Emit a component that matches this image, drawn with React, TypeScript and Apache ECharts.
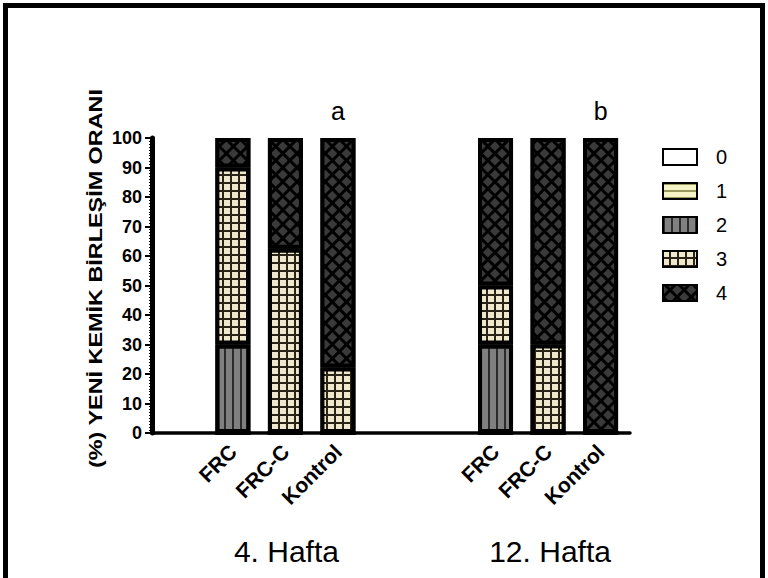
import React, { useEffect, useRef } from 'react';
import * as echarts from 'echarts';

// ---- data ----
const categories = ['FRC', 'FRC-C', 'Kontrol', 'FRC', 'FRC-C', 'Kontrol'];
const slots = [0, 1, 2, 5, 6, 7]; // category slots on the x axis (two empty slots between weeks)
const groupLabels = ['4. Hafta', '12. Hafta'];
const groupMarks = ['a', 'b'];
const legendNames = ['0', '1', '2', '3', '4'];
const score0 = [0, 0, 0, 0, 0, 0];
const score1 = [0, 0, 0, 0, 0, 0];
const score2 = [30, 0, 0, 30, 0, 0];
const score3 = [60, 62.5, 22.2, 20, 30, 0];
const score4 = [10, 37.5, 77.8, 50, 70, 100];
const yTitle = '(%) YENİ KEMİK BİRLEŞİM ORANI';

const FONT = '"Liberation Sans", Arial, sans-serif';

export default function App() {
  const ref = useRef<HTMLDivElement>(null);
  useEffect(() => {
    if (!ref.current) return;
    const chart = echarts.init(ref.current, null, { renderer: 'svg' });

    const allScores = [score0, score1, score2, score3, score4];
    const styles: any[] = [
      { color: '#ffffff' },
      {
        color: '#f4f4c4',
        decal: { symbol: 'rect', color: '#9a9a60', dashArrayX: [8, 0], dashArrayY: [2, 5] },
      },
      {
        color: '#808080',
        decal: { symbol: 'rect', color: '#2c2c2c', dashArrayX: [2, 6], dashArrayY: [8, 0] },
      },
      {
        color: '#2a2318',
        decal: { symbol: 'rect', color: '#efe8cc', dashArrayX: [6, 2], dashArrayY: [6, 2] },
      },
      {
        color: '#000000',
        decal: {
          symbol: 'rect',
          color: '#3a3a3a',
          rotation: Math.PI / 4,
          dashArrayX: [7, 2.8],
          dashArrayY: [7, 2.8],
        },
      },
    ];

    // data rows are [value, slot] so that the stacked dimension is the value
    const series = legendNames.map((name, i) => ({
      name,
      type: 'bar',
      stack: 'total',
      barWidth: 35,
      encode: { x: 1, y: 0 },
      data: allScores[i].map((v, j) => [v, slots[j]]),
      itemStyle: { ...styles[i], borderColor: '#000', borderWidth: 4 },
    }));

    const option: any = {
      animation: false,
      grid: { left: 152, right: 138, top: 138, bottom: 145, containLabel: false },
      xAxis: {
        type: 'value',
        min: -1.54,
        max: 7.56,
        axisLine: { show: true, onZero: false, lineStyle: { color: '#000', width: 3.5 } },
        axisTick: { show: false },
        splitLine: { show: false },
        axisLabel: {
          customValues: slots,
          formatter: (v: number) => {
            const k = slots.indexOf(v);
            return k >= 0 ? categories[k] : '';
          },
          rotate: 45,
          margin: 15,
          color: '#000',
          fontFamily: FONT,
          fontWeight: 'bold',
          fontSize: 21,
        },
      },
      yAxis: {
        type: 'value',
        min: 0,
        max: 100,
        interval: 10,
        axisLine: { show: true, onZero: false, lineStyle: { color: '#000', width: 5 } },
        axisTick: { show: true, length: 7, lineStyle: { color: '#000', width: 2 } },
        minorTick: { show: true, splitNumber: 10, length: 3, lineStyle: { color: '#000', width: 1 } },
        splitLine: { show: false },
        axisLabel: {
          margin: 10,
          color: '#000',
          fontFamily: FONT,
          fontWeight: 'bold',
          fontSize: 18,
        },
      },
      legend: {
        orient: 'vertical',
        left: 662,
        top: 147,
        padding: 0,
        itemWidth: 34,
        itemHeight: 16,
        itemGap: 14,
        icon: 'rect',
        data: legendNames,
        textStyle: { fontSize: 20, fontFamily: FONT, color: '#000', padding: [0, 0, 0, 14], lineHeight: 20 },
      },
      series,
    };
    chart.setOption(option);

    // annotations anchored on the library's own scales
    const topA = chart.convertToPixel({ gridIndex: 0 }, [slots[2], 100]) as number[];
    const topB = chart.convertToPixel({ gridIndex: 0 }, [slots[5], 100]) as number[];
    const midA = chart.convertToPixel({ gridIndex: 0 }, [slots[1], 0]) as number[];
    const midB = chart.convertToPixel({ gridIndex: 0 }, [slots[4], 0]) as number[];
    const yMid = chart.convertToPixel({ gridIndex: 0 }, [slots[0], 50]) as number[];

    const txt = (text: string, x: number, y: number, size: number, extra: any = {}) => ({
      type: 'text',
      x,
      y,
      style: {
        text,
        fill: '#000',
        fontFamily: FONT,
        fontSize: size,
        fontWeight: extra.bold ? 'bold' : 'normal',
        align: 'center',
        verticalAlign: 'middle',
        textAlign: 'center',
        textVerticalAlign: 'middle',
      },
    });

    chart.setOption({
      graphic: [
        {
          type: 'rect',
          shape: { x: 5.5, y: 5.5, width: 757, height: 620 },
          style: { fill: 'none', stroke: '#000', lineWidth: 5 },
          silent: true,
        },
        txt(groupMarks[0], topA[0], topA[1] - 27, 25),
        txt(groupMarks[1], topB[0], topB[1] - 27, 25),
        txt(groupLabels[0], midA[0] + 1, midA[1] + 118, 30),
        txt(groupLabels[1], midB[0] + 2, midB[1] + 118, 30),
        {
          ...txt(yTitle, 96, yMid[1] - 7, 18, { bold: true }),
          rotation: Math.PI / 2,
          scaleX: 1.3,
        },
      ],
    });

    return () => chart.dispose();
  }, []);
  return <div ref={ref} style={{ position: 'fixed', left: 0, top: 0, width: 768, height: 578, background: '#fff' }} />;
}
